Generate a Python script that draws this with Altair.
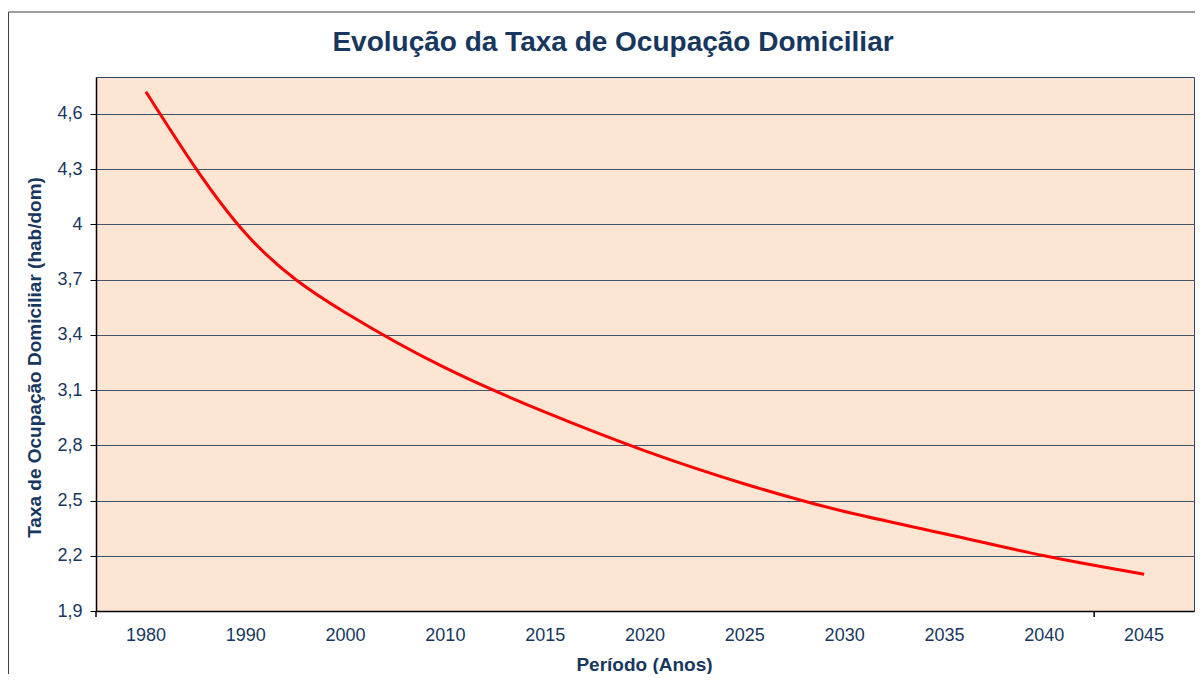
import altair as alt
import pandas as pd

# Data
anos = ["1980", "1990", "2000", "2010", "2015", "2020", "2025", "2030", "2035", "2040", "2045"]
taxa = [4.72, 3.95, 3.52, 3.22, 2.98, 2.77, 2.59, 2.44, 2.32, 2.20, 2.10]
y_ticks = [1.9, 2.2, 2.5, 2.8, 3.1, 3.4, 3.7, 4.0, 4.3, 4.6]
x_tick_cats = ["1980", "2045"]
titulo = ["Evolução da Taxa de Ocupação Domiciliar"]

NAVY = "#17375E"
FONT = "Liberation Sans"
W, H = 1098, 534
PAD = {"left": 88, "top": 69, "right": 1, "bottom": 63}

df = pd.DataFrame({"ano": anos, "taxa": taxa})
xscale = alt.Scale(type="band", domain=anos, paddingInner=0, paddingOuter=0)
yscale = alt.Scale(domain=[1.9, 4.8], nice=False, zero=False)

ax_x = alt.Axis(
    title="Período (Anos)", labelAngle=0, ticks=False, labelFont=FONT, labelFontSize=18,
    labelColor=NAVY, labelPadding=15, domainColor="black", domainWidth=1.5, grid=False,
    titleFont=FONT, titleFontSize=19, titleFontWeight="bold", titleColor=NAVY,
    titleY=53, titleX=548, titleBaseline="middle", titleAlign="center",
)
ax_y = alt.Axis(
    title="Taxa de Ocupação Domiciliar (hab/dom)", values=y_ticks,
    labelExpr="replace(format(datum.value, '.1~f'), '.', ',')",
    labelFont=FONT, labelFontSize=18, labelColor=NAVY, labelPadding=8,
    tickSize=6, tickColor="black", domainColor="black", domainWidth=1.5,
    grid=True, gridColor="#44546A", gridWidth=1.2,
    titleFont=FONT, titleFontSize=19, titleFontWeight="bold", titleColor=NAVY,
    titleX=-62, titleY=280, titleAngle=270, titleAlign="center", titleBaseline="middle",
)

line = alt.Chart(df).mark_line(color="#FF0000", strokeWidth=3, interpolate="natural").encode(
    x=alt.X("ano:O", scale=xscale, bandPosition=0.5, axis=ax_x),
    y=alt.Y("taxa:Q", scale=yscale, axis=ax_y),
)

ticks = alt.Chart(pd.DataFrame({"ano": x_tick_cats})).mark_rule(color="black", strokeWidth=1.5).encode(
    x=alt.X("ano:O", scale=xscale, bandPosition=0, axis=ax_x),
    y=alt.value(H),
    y2=alt.value(H + 6),
)

title = alt.Chart(pd.DataFrame({"t": titulo})).mark_text(
    font=FONT, fontSize=28, fontWeight="bold", color=NAVY, align="center", baseline="alphabetic"
).encode(text="t:N", x=alt.value(517), y=alt.value(-26))

one = pd.DataFrame({"a": [0]})
frame_left = alt.Chart(one).mark_rule(color="#404040", strokeWidth=1).encode(
    x=alt.value(-87.5), y=alt.value(-65), y2=alt.value(H + PAD["bottom"])
)
frame_top = alt.Chart(one).mark_rule(color="#404040", strokeWidth=1).encode(
    x=alt.value(-87.5), x2=alt.value(W + PAD["right"]), y=alt.value(-65)
)

chart = alt.layer(line, ticks, title, frame_left, frame_top).properties(
    width=W,
    height=H,
    padding=PAD,
    autosize=alt.AutoSizeParams(type="none"),
    background="white",
).configure_view(
    fill="#FDE5D3", stroke="#2F4566", strokeWidth=1
)

chart.save("out.html", embed_options={"renderer": "svg", "actions": False})
